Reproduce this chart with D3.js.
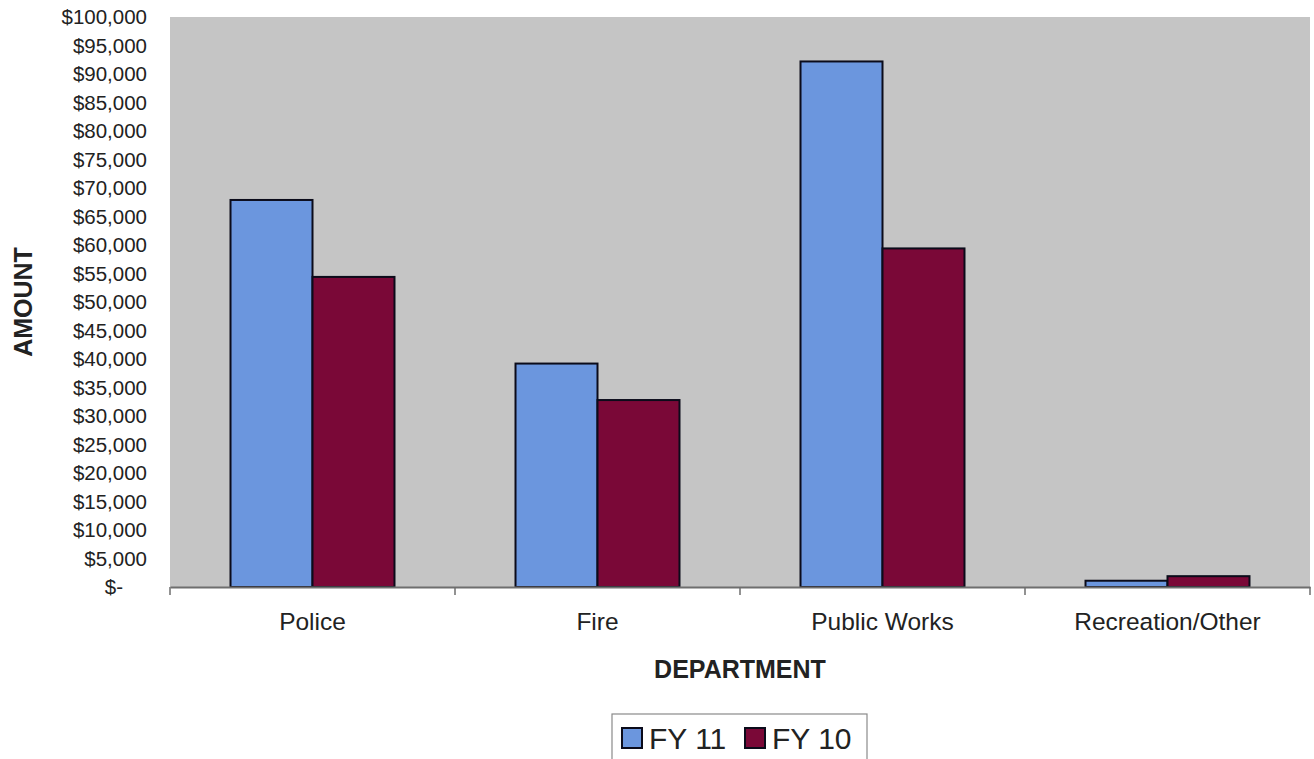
<!DOCTYPE html>
<html>
<head>
<meta charset="utf-8">
<script src="https://cdn.jsdelivr.net/npm/d3@7"></script>
<style>
  html, body { margin: 0; padding: 0; background: #ffffff; }
  svg { display: block; font-family: "Liberation Sans", Arial, sans-serif; }
</style>
</head>
<body>
<svg id="chart" width="1314" height="759"></svg>
<script>
// ---- data ----
const categories = ["Police", "Fire", "Public Works", "Recreation/Other"];
const seriesNames = ["FY 11", "FY 10"];
const fy11 = [67900, 39200, 92200, 1100];
const fy10 = [54400, 32800, 59400, 1900];
const yTicks = [0, 5000, 10000, 15000, 20000, 25000, 30000, 35000, 40000, 45000, 50000,
                55000, 60000, 65000, 70000, 75000, 80000, 85000, 90000, 95000, 100000];
const seriesColors = ["#6b96de", "#7a0837"];

const seriesValues = [fy11, fy10];
const rows = categories.map((c, i) => ({
  category: c,
  values: seriesNames.map((s, j) => ({ series: s, value: seriesValues[j][i], color: seriesColors[j] }))
}));

// ---- layout ----
const svg = d3.select("#chart");
const plot = { left: 170, right: 1310, top: 17, bottom: 587 };

const x = d3.scaleBand().domain(categories).range([plot.left, plot.right]).padding(0);
const xs = d3.scaleBand().domain(seriesNames).range([0, x.bandwidth()])
  .paddingInner(0).paddingOuter(0.738);
const y = d3.scaleLinear().domain([0, 100000]).range([plot.bottom, plot.top]);

// plot background
svg.append("rect")
  .attr("x", plot.left).attr("y", plot.top)
  .attr("width", plot.right - plot.left).attr("height", plot.bottom - plot.top)
  .attr("fill", "#c5c5c5");

// bars
const groups = svg.append("g").selectAll("g").data(rows).join("g")
  .attr("transform", d => `translate(${x(d.category)},0)`);
groups.selectAll("rect").data(d => d.values).join("rect")
  .attr("x", d => xs(d.series))
  .attr("y", d => y(d.value))
  .attr("width", xs.bandwidth())
  .attr("height", d => y(0) - y(d.value))
  .attr("fill", d => d.color)
  .attr("stroke", "#0b0b1a")
  .attr("stroke-width", 2);

// y axis
const yAxis = svg.append("g")
  .attr("transform", `translate(${plot.left - 23},0)`)
  .call(d3.axisLeft(y).tickValues(yTicks).tickSize(0).tickPadding(0)
    .tickFormat(d => d === 0 ? "$-" : d3.format("$,")(d)));
yAxis.select(".domain").remove();
yAxis.selectAll("text")
  .attr("font-size", "20.5px")
  .attr("font-family", "'Liberation Sans', Arial, sans-serif")
  .attr("fill", "#222")
  .attr("dx", d => d === 0 ? -24 : 0);

// x axis
const xAxis = svg.append("g")
  .attr("transform", `translate(0,${plot.bottom})`)
  .call(d3.axisBottom(x).tickSize(0).tickPadding(26));
xAxis.select(".domain").attr("stroke", "#6e6e6e").attr("stroke-width", 2);
xAxis.selectAll("text")
  .attr("font-size", "24.5px")
  .attr("font-family", "'Liberation Sans', Arial, sans-serif")
  .attr("fill", "#222");
// boundary tick marks
const boundaries = categories.map(c => x(c)).concat([x(categories[categories.length - 1]) + x.bandwidth()]);
svg.append("g").selectAll("line").data(boundaries).join("line")
  .attr("x1", d => d).attr("x2", d => d)
  .attr("y1", plot.bottom).attr("y2", plot.bottom + 8)
  .attr("stroke", "#6e6e6e").attr("stroke-width", 1.5);

// axis titles
svg.append("text")
  .attr("transform", `translate(32,${(plot.top + plot.bottom) / 2}) rotate(-90)`)
  .attr("text-anchor", "middle")
  .attr("font-size", "25px").attr("font-weight", "bold").attr("fill", "#222")
  .text("AMOUNT");
svg.append("text")
  .attr("x", (plot.left + plot.right) / 2).attr("y", 678)
  .attr("text-anchor", "middle")
  .attr("font-size", "25px").attr("font-weight", "bold").attr("fill", "#222")
  .text("DEPARTMENT");

// legend
const legend = svg.append("g");
legend.append("rect")
  .attr("x", 612).attr("y", 714).attr("width", 255).attr("height", 60)
  .attr("fill", "#fff").attr("stroke", "#8a8a8a").attr("stroke-width", 1.2);
const legendX = [622, 745];
const items = legend.selectAll("g.item").data(seriesNames).join("g")
  .attr("class", "item")
  .attr("transform", (d, i) => `translate(${legendX[i]},728)`);
items.append("rect")
  .attr("width", 20).attr("height", 20)
  .attr("fill", (d, i) => seriesColors[i])
  .attr("stroke", "#0b0b1a").attr("stroke-width", 2);
items.append("text")
  .attr("x", 27).attr("y", 21)
  .attr("font-size", "30px").attr("fill", "#222")
  .text(d => d);
</script>
</body>
</html>
